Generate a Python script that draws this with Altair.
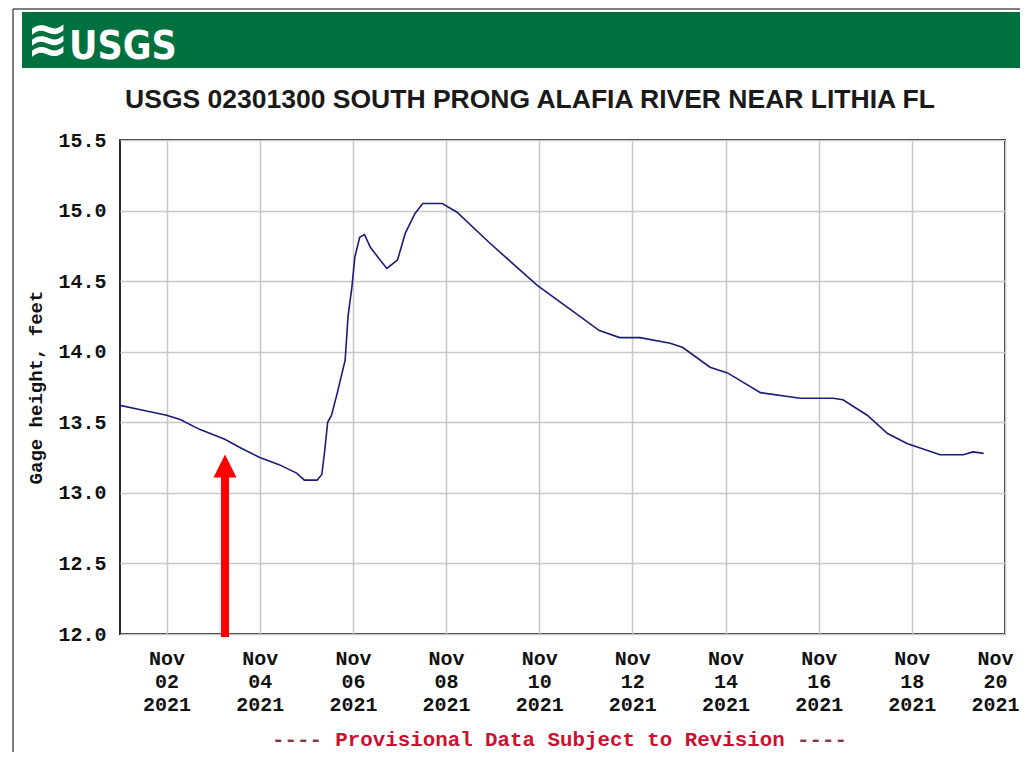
import altair as alt
import pandas as pd

# ---- data ----
times = [
    "2021-11-01T00:00", "2021-11-01T10:00", "2021-11-02T00:00", "2021-11-02T07:00",
    "2021-11-02T17:00", "2021-11-03T06:00", "2021-11-03T14:00", "2021-11-04T00:00",
    "2021-11-04T10:00", "2021-11-04T19:00", "2021-11-04T23:00", "2021-11-05T05:30",
    "2021-11-05T08:00", "2021-11-05T09:30", "2021-11-05T11:00", "2021-11-05T13:00",
    "2021-11-05T16:00", "2021-11-05T20:00", "2021-11-05T21:30", "2021-11-05T23:30",
    "2021-11-06T01:00", "2021-11-06T03:30", "2021-11-06T06:00", "2021-11-06T09:00",
    "2021-11-06T14:00", "2021-11-06T17:30", "2021-11-06T23:00", "2021-11-07T03:00",
    "2021-11-07T08:00", "2021-11-07T12:00", "2021-11-07T22:00", "2021-11-08T05:30",
    "2021-11-08T22:30", "2021-11-09T23:00", "2021-11-10T16:00", "2021-11-11T07:00",
    "2021-11-11T17:30", "2021-11-12T04:00", "2021-11-12T19:30", "2021-11-13T02:00",
    "2021-11-13T16:00", "2021-11-14T01:00", "2021-11-14T18:00", "2021-11-15T14:30",
    "2021-11-16T07:30", "2021-11-16T12:30", "2021-11-17T01:00", "2021-11-17T11:30",
    "2021-11-17T21:30", "2021-11-18T14:30", "2021-11-19T02:30", "2021-11-19T07:30",
    "2021-11-19T13:00",
]
gage_height = [
    13.62, 13.59, 13.55, 13.52,
    13.45, 13.38, 13.32, 13.25,
    13.20, 13.14, 13.09, 13.09,
    13.13, 13.30, 13.50, 13.55,
    13.71, 13.94, 14.25, 14.46,
    14.67, 14.81, 14.83, 14.74,
    14.65, 14.59, 14.65, 14.84,
    14.98, 15.05, 15.05, 14.99,
    14.77, 14.47, 14.30, 14.15,
    14.10, 14.10, 14.06, 14.03,
    13.89, 13.85, 13.71, 13.67,
    13.67, 13.66, 13.55, 13.42,
    13.35, 13.27, 13.27, 13.29,
    13.28,
]
y_ticks = [12.0, 12.5, 13.0, 13.5, 14.0, 14.5, 15.0, 15.5]
x_tick_days = [2, 4, 6, 8, 10, 12, 14, 16, 18, 20]

title_text = "USGS 02301300 SOUTH PRONG ALAFIA RIVER NEAR LITHIA FL"
y_title = "Gage height, feet"
footer_mid = "Provisional Data Subject to Revision"
footer_dash = "----"

df = pd.DataFrame({"t": times, "h": gage_height})
one = pd.DataFrame({"a": [0]})

W, H = 885, 494
MONO = "Liberation Mono"

x_scale = alt.Scale(domain=[alt.DateTime(year=2021, month=11, date=1),
                            alt.DateTime(year=2021, month=11, date=20)], nice=False)
y_scale = alt.Scale(domain=[12.0, 15.5], nice=False, zero=False)

last_label_shift = {
    "condition": {"test": "date(datum.value) == 20", "value": -10},
    "value": 0,
}

line = alt.Chart(df).mark_line(color="#1c1c78", strokeWidth=1.6, clip=True).encode(
    x=alt.X("t:T", scale=x_scale,
            axis=alt.Axis(values=[alt.DateTime(year=2021, month=11, date=d) for d in x_tick_days],
                          labelExpr="[timeFormat(datum.value, '%b'), timeFormat(datum.value, '%d'), timeFormat(datum.value, '%Y')]",
                          title=None, ticks=False, domain=False, grid=True,
                          gridColor="#c8c8c8", gridWidth=1.5,
                          labelFont=MONO, labelFontWeight="bold", labelFontSize=20,
                          labelColor="#111", labelLineHeight=23, labelPadding=14,
                          labelOverlap=False, labelFlush=False,
                          labelOffset=last_label_shift,
                          labelBound=False)),
    y=alt.Y("h:Q", scale=y_scale,
            axis=alt.Axis(values=y_ticks, format=".1f", title=y_title,
                          ticks=False, domain=False, grid=True,
                          gridColor="#c8c8c8", gridWidth=1.5,
                          labelFont=MONO, labelFontWeight="bold", labelFontSize=20,
                          labelColor="#111", labelPadding=14,
                          titleFont=MONO, titleFontWeight="bold", titleFontSize=19,
                          titleColor="#111", titleX=-85, titleY=H / 2,
                          titleAngle=270, titleBaseline="middle", titleAlign="center")),
)

base = alt.Chart(one)

banner = base.mark_rect(color="#00703f").encode(
    x=alt.value(-98), x2=alt.value(910), y=alt.value(-128), y2=alt.value(-72))
frame_left = base.mark_rule(color="#555555", strokeWidth=1.5).encode(
    x=alt.value(-107), y=alt.value(-131), y2=alt.value(640))
frame_top = base.mark_rule(color="#555555", strokeWidth=1.5).encode(
    x=alt.value(-107), x2=alt.value(910), y=alt.value(-131))
waves = base.mark_text(text="≋", color="white", fontSize=50, font="DejaVu Sans",
                       fontWeight="bold", align="center", baseline="middle").encode(
    x=alt.value(-72), y=alt.value(-99))
logo = base.mark_text(text="USGS", color="white", fontSize=39,
                      font="DejaVu Sans Condensed",
                      fontWeight="bold", align="left", baseline="alphabetic").encode(
    x=alt.value(-51), y=alt.value(-81))
title = base.mark_text(text=title_text, color="#1a1a1a", fontSize=26.5,
                       font="Liberation Sans", fontWeight="bold",
                       align="center", baseline="middle").encode(
    x=alt.value(410), y=alt.value(-40))
foot_l = base.mark_text(text=footer_dash, color="#8a3446", fontSize=20.8, font=MONO,
                        fontWeight="bold", align="center", baseline="middle").encode(
    x=alt.value(177), y=alt.value(600))
foot_m = base.mark_text(text=footer_mid, color="#cc1030", fontSize=20.8, font=MONO,
                        fontWeight="bold", align="center", baseline="middle").encode(
    x=alt.value(440), y=alt.value(600))
foot_r = base.mark_text(text=footer_dash, color="#8a3446", fontSize=20.8, font=MONO,
                        fontWeight="bold", align="center", baseline="middle").encode(
    x=alt.value(702), y=alt.value(600))
arrow_shaft = base.mark_rect(color="#ff0000").encode(
    x=alt.value(101), x2=alt.value(109), y=alt.value(336), y2=alt.value(497))
arrow_head = base.mark_point(shape="M0,-1L1,1L-1,1Z", filled=True, color="#ff0000",
                             opacity=1, size=530, strokeWidth=0).encode(
    x=alt.value(105), y=alt.value(326))

chart = alt.layer(
    banner, frame_left, frame_top, waves, logo, title, line,
    foot_l, foot_m, foot_r, arrow_shaft, arrow_head,
).properties(
    width=W, height=H,
    autosize=alt.AutoSizeParams(type="none"),
    padding={"left": 112, "top": 132, "right": 15, "bottom": 118},
    background="white",
).configure_view(stroke="#2a2a2a", strokeWidth=2)

chart.save("out.html", embed_options={"renderer": "svg", "actions": False})
